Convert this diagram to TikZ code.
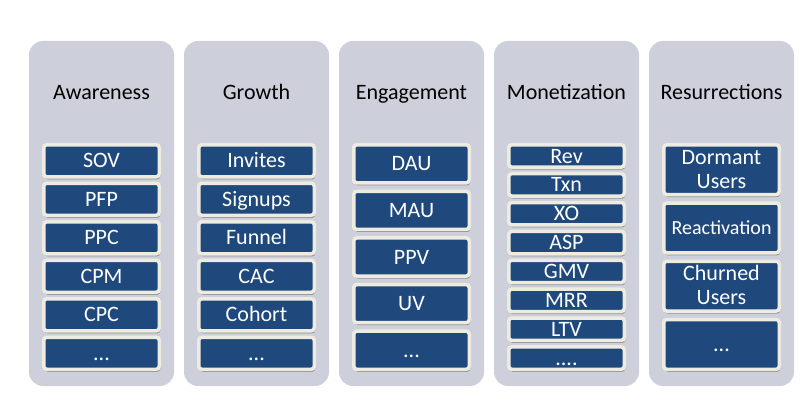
\documentclass[tikz,border=0pt]{standalone}
\usepackage{fontspec}
\setmainfont{Carlito}
\usetikzlibrary{shadows}

\definecolor{panelgray}{RGB}{205,208,219}
\definecolor{boxblue}{RGB}{31,73,125}
\definecolor{boxrim}{RGB}{238,236,225}
\newcommand\twolines[2]{\begin{tabular}{@{}c@{}}#1\\#2\end{tabular}}

\begin{document}
\begin{tikzpicture}[x=1pt,y=-1pt,
	panel/.style={fill=panelgray,rounded corners=14pt,minimum width=145pt,minimum height=345pt,inner sep=0pt},
	title/.style={font=\fontsize{22}{24}\selectfont},
	metric/.style={fill=boxblue,draw=boxrim,line width=3.5pt,rounded corners=3pt,text=white,
		minimum width=115.5pt,inner sep=0pt,font=\fontsize{22}{24}\selectfont,
		text height=17.5pt,text depth=3.3pt,
		drop shadow={shadow xshift=1pt,shadow yshift=-2.5pt,opacity=.3,fill=black}}]
	\useasboundingbox (0,0) rectangle (808,420);
	% one column per stage: centre / title / number of boxes / gap / boxes
	\foreach \cx/\ttl/\n/\gap/\items [count=\col] in {
		101.5/Awareness/6/3/{SOV,PFP,PPC,CPM,CPC,{{...}}},
		256.5/Growth/6/3/{Invites,Signups,Funnel,CAC,Cohort,{{...}}},
		411.5/Engagement/5/5/{DAU,MAU,PPV,UV,{{...}}},
		566.5/Monetization/8/3/{Rev,Txn,XO,ASP,GMV,MRR,LTV,{{....}}},
		721.5/Resurrections/4/5/{{\twolines{Dormant}{Users}},{\fontsize{20}{24}\selectfont Reactivation},{\twolines{Churned}{Users}},{{...}}}}
	{
		\node[panel] (p\col) at (\cx,213.5) {};
		\node[title,anchor=base] (t\col) at (\cx,99) {\ttl};
		\pgfmathsetmacro\h{(228-(\n-1)*\gap)/\n}
		\foreach \lbl [count=\row] in \items
			\node[metric,minimum height=\h-3.5] (m\col-\row) at (\cx,{143+\h/2+(\row-1)*(\h+\gap)}) {\lbl};
	}
\end{tikzpicture}
\end{document}
